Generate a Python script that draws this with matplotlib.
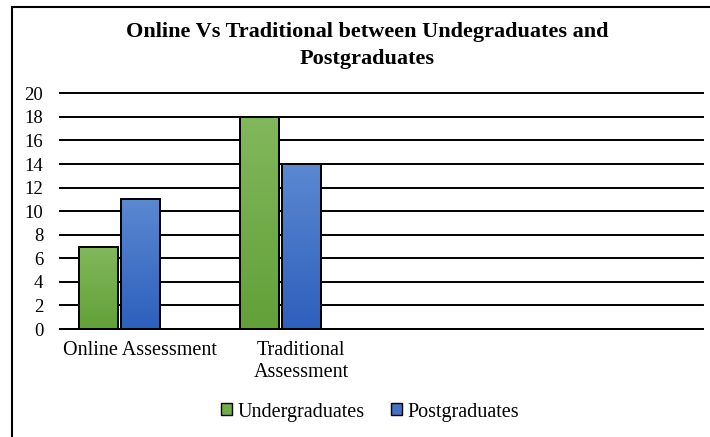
import numpy as np
import matplotlib
matplotlib.use("Agg")
import matplotlib.pyplot as plt
from matplotlib.patches import Rectangle, Patch
from matplotlib.colors import LinearSegmentedColormap

categories = ["Online Assessment", "Traditional\nAssessment", "", ""]
undergraduates = [7, 18]
postgraduates = [11, 14]
series_names = ["Undergraduates", "Postgraduates"]
y_ticks = [0, 2, 4, 6, 8, 10, 12, 14, 16, 18, 20]
title = "Online Vs Traditional between Undegraduates and\nPostgraduates"

plt.rcParams['font.family'] = ['Liberation Serif', 'DejaVu Serif']

W, H = 710, 437
fig = plt.figure(figsize=(W / 100, H / 100), dpi=100)
ax = fig.add_axes([60 / W, 1 - 329 / H, (703 - 60) / W, (329 - 93.3) / H])

green_cmap = LinearSegmentedColormap.from_list("g", ["#62a038", "#82b85c"])
blue_cmap = LinearSegmentedColormap.from_list("b", ["#2d60bd", "#5c88d1"])

x = np.arange(len(undergraduates))
width = 0.243
offsets = [-0.258, 0.0]
grad = np.linspace(0, 1, 256).reshape(-1, 1)

for vals, off, cmap in [(undergraduates, offsets[0], green_cmap),
                        (postgraduates, offsets[1], blue_cmap)]:
    bars = ax.bar(x + off, vals, width=width, facecolor="none", edgecolor="black",
                  linewidth=1.4, zorder=4)
    for b in bars:
        x0, y0 = b.get_x(), b.get_y()
        w, h = b.get_width(), b.get_height()
        im = ax.imshow(grad, cmap=cmap, origin="lower", aspect="auto",
                       extent=[x0, x0 + w, y0, y0 + h], zorder=3)
        im.set_clip_path(b)

ax.set_xlim(-0.5, len(categories) - 0.5)
ax.set_ylim(0, 20)
ax.set_yticks(y_ticks)
ax.set_xticks(np.arange(len(categories)))
ax.set_xticklabels(categories, fontsize=14.5, linespacing=1.25)
ax.tick_params(axis="y", length=0, pad=12, labelsize=13.5)
ax.tick_params(axis="x", length=0, pad=8.5)
ax.yaxis.grid(True, color="black", linewidth=1.4)
for gl in ax.get_ygridlines():
    gl.set_clip_on(False)
ax.set_axisbelow(True)
for s in ["left", "right", "top"]:
    ax.spines[s].set_visible(False)
ax.spines["bottom"].set_color("black")
ax.spines["bottom"].set_linewidth(1.4)
ax.spines["bottom"].set_zorder(5)

# chart frame
fig.patches.append(Rectangle((11.7 / W, -0.1), 1.1, 1 - 7.3 / H + 0.1,
                             transform=fig.transFigure, fill=False,
                             edgecolor="black", linewidth=1.5))

fig.text(367.5 / W, 1 - 21.5 / H, title, ha="center", va="top",
         fontsize=16, fontweight="bold", linespacing=1.5)

handles = [Patch(facecolor="#70ad47", edgecolor="black", linewidth=1.0),
           Patch(facecolor="#4472c4", edgecolor="black", linewidth=1.0)]
fig.legend(handles, series_names, loc="center", bbox_to_anchor=(370 / W, 1 - 412 / H),
           ncol=2, frameon=False, fontsize=14.5, handlelength=0.55, handleheight=0.55,
           handletextpad=0.25, columnspacing=1.3, borderpad=0)

fig.savefig("out.png", dpi=100)
